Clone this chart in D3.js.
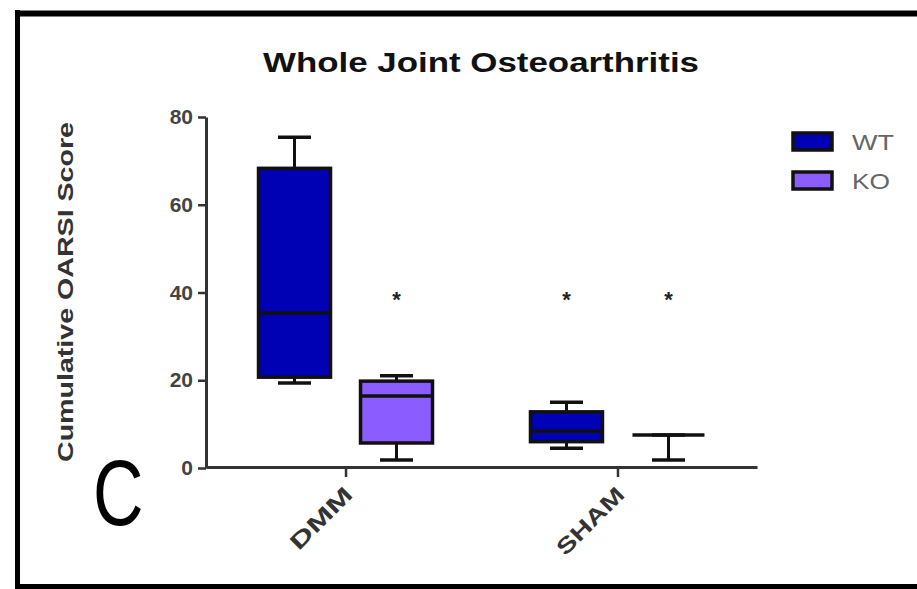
<!DOCTYPE html>
<html>
<head>
<meta charset="utf-8">
<script src="https://cdn.jsdelivr.net/npm/d3@7"></script>
<style>
  body { margin: 0; background: #fff; }
  svg { display: block; font-family: "Liberation Sans", Arial, sans-serif; }
</style>
</head>
<body>
<div id="wrapper"></div>
<script>
// data
const groups = ["DMM", "SHAM"]
const genotypes = ["WT", "KO"]
const yTicks = [0, 20, 40, 60, 80]
// five-number summaries: [min, q1, median, q3, max]
const wtDMM = [19.4, 20.7, 35.3, 68.3, 75.4]
const koDMM = [1.8, 5.7, 16.4, 19.8, 21]
const wtSHAM = [4.5, 6, 8.4, 12.8, 15]
const koSHAM = [1.8, 7.5, 7.5, 7.5, 7.5]
// significance stars (group, genotype, y value)
const stars = [
  { group: "DMM", geno: "KO", value: 38.8 },
  { group: "SHAM", geno: "WT", value: 38.8 },
  { group: "SHAM", geno: "KO", value: 38.8 },
]

const boxes = [
  { group: "DMM", geno: "WT", v: wtDMM },
  { group: "DMM", geno: "KO", v: koDMM },
  { group: "SHAM", geno: "WT", v: wtSHAM },
  { group: "SHAM", geno: "KO", v: koSHAM },
]

const colors = { WT: "#0000b4", KO: "#8b5cff" }

const width = 917
const height = 589

const svg = d3.select("#wrapper")
  .append("svg")
  .attr("width", width)
  .attr("height", height)

// panel frame
svg.append("line").attr("x1", 15).attr("x2", width).attr("y1", 13.5).attr("y2", 13.5)
  .attr("stroke", "#000").attr("stroke-width", 6)
svg.append("line").attr("x1", 17.5).attr("x2", 17.5).attr("y1", 10).attr("y2", height)
  .attr("stroke", "#000").attr("stroke-width", 5)
svg.append("line").attr("x1", 15).attr("x2", width).attr("y1", 586.5).attr("y2", 586.5)
  .attr("stroke", "#000").attr("stroke-width", 5)

// scales
const y = d3.scaleLinear().domain([0, 80]).range([468, 117])
const x = d3.scalePoint().domain(groups).range([206, 757]).padding(0.513)
const xSub = d3.scaleBand().domain(genotypes).range([-102, 102])
const boxW = 72
const capW = 33

const cx = d => x(d.group) + xSub(d.geno) + xSub.bandwidth() / 2

// axes
const yAxis = svg.append("g")
  .attr("transform", "translate(206,0)")
  .call(d3.axisLeft(y).tickValues(yTicks).tickSize(8).tickSizeOuter(0))
yAxis.select(".domain").attr("stroke", "#333").attr("stroke-width", 3)
yAxis.selectAll(".tick line").attr("stroke", "#333").attr("stroke-width", 2.5)
yAxis.selectAll(".tick text")
  .attr("x", -13)
  .attr("font-size", 21).attr("font-weight", "bold").attr("fill", "#444")
  .attr("font-family", "Liberation Sans, Arial, sans-serif")

const xAxis = svg.append("g")
  .attr("transform", "translate(0,467)")
  .call(d3.axisBottom(x).tickSize(10).tickSizeOuter(0))
xAxis.select(".domain").attr("stroke", "#333").attr("stroke-width", 3)
xAxis.selectAll(".tick line").attr("stroke", "#333").attr("stroke-width", 2.5)
xAxis.selectAll(".tick text")
  .attr("font-size", 22).attr("font-weight", "bold").attr("fill", "#333")
  .attr("font-family", "Liberation Sans, Arial, sans-serif")
  .attr("text-anchor", "end")
  .attr("dy", 0)
  .attr("y", 0)
  .attr("textLength", d => d === "DMM" ? 78 : 86)
  .attr("lengthAdjust", "spacingAndGlyphs")
  .attr("transform", "translate(8,29) rotate(-45)")

// boxes
const bx = svg.append("g")
bx.selectAll("g.box")
  .data(boxes)
  .join("g")
  .attr("class", "box")
  .each(function(d) {
    const g = d3.select(this)
    const c = cx(d)
    const [mn, q1, md, q3, mx] = d.v
    // whiskers
    g.append("line").attr("x1", c).attr("x2", c).attr("y1", y(mx)).attr("y2", y(q3))
      .attr("stroke", "#111").attr("stroke-width", 3)
    g.append("line").attr("x1", c).attr("x2", c).attr("y1", y(q1)).attr("y2", y(mn))
      .attr("stroke", "#111").attr("stroke-width", 3)
    g.append("line").attr("x1", c - capW / 2).attr("x2", c + capW / 2).attr("y1", y(mx)).attr("y2", y(mx))
      .attr("stroke", "#111").attr("stroke-width", 3.5)
    g.append("line").attr("x1", c - capW / 2).attr("x2", c + capW / 2).attr("y1", y(mn)).attr("y2", y(mn))
      .attr("stroke", "#111").attr("stroke-width", 3.5)
    // box
    g.append("rect")
      .attr("x", c - boxW / 2).attr("width", boxW)
      .attr("y", y(q3)).attr("height", Math.max(0, y(q1) - y(q3)))
      .attr("fill", colors[d.geno]).attr("stroke", "#111").attr("stroke-width", 3.5)
    g.append("line").attr("x1", c - boxW / 2).attr("x2", c + boxW / 2).attr("y1", y(md)).attr("y2", y(md))
      .attr("stroke", "#111").attr("stroke-width", 3.5)
  })

// stars
svg.append("g").selectAll("text")
  .data(stars)
  .join("text")
  .attr("x", d => cx(d))
  .attr("y", d => y(d.value) + 9)
  .attr("text-anchor", "middle")
  .attr("font-size", 22).attr("font-weight", "bold").attr("fill", "#222")
  .text("*")

// title
svg.append("text")
  .attr("x", 481).attr("y", 72)
  .attr("text-anchor", "middle")
  .attr("font-size", 27).attr("font-weight", "bold").attr("fill", "#111")
  .attr("textLength", 436).attr("lengthAdjust", "spacingAndGlyphs")
  .text("Whole Joint Osteoarthritis")

// y label
svg.append("text")
  .attr("transform", "translate(73,292) rotate(-90)")
  .attr("text-anchor", "middle")
  .attr("font-size", 22).attr("font-weight", "bold").attr("fill", "#333")
  .attr("textLength", 340).attr("lengthAdjust", "spacingAndGlyphs")
  .text("Cumulative OARSI Score")

// panel letter
svg.append("text")
  .attr("transform", "translate(93,525) scale(0.76,1)")
  .attr("font-size", 92).attr("fill", "#000")
  .text("C")

// legend
const legend = svg.append("g")
legend.selectAll("g")
  .data(genotypes)
  .join("g")
  .attr("transform", (d, i) => `translate(793,${133 + i * 39})`)
  .each(function(d) {
    const g = d3.select(this)
    g.append("rect").attr("width", 39).attr("height", 17)
      .attr("fill", colors[d]).attr("stroke", "#111").attr("stroke-width", 3.5)
    g.append("text").attr("x", 59).attr("y", 17)
      .attr("font-size", 22).attr("fill", "#666")
      .attr("textLength", d === "WT" ? 42 : 38).attr("lengthAdjust", "spacingAndGlyphs")
      .text(d)
  })
</script>
</body>
</html>
